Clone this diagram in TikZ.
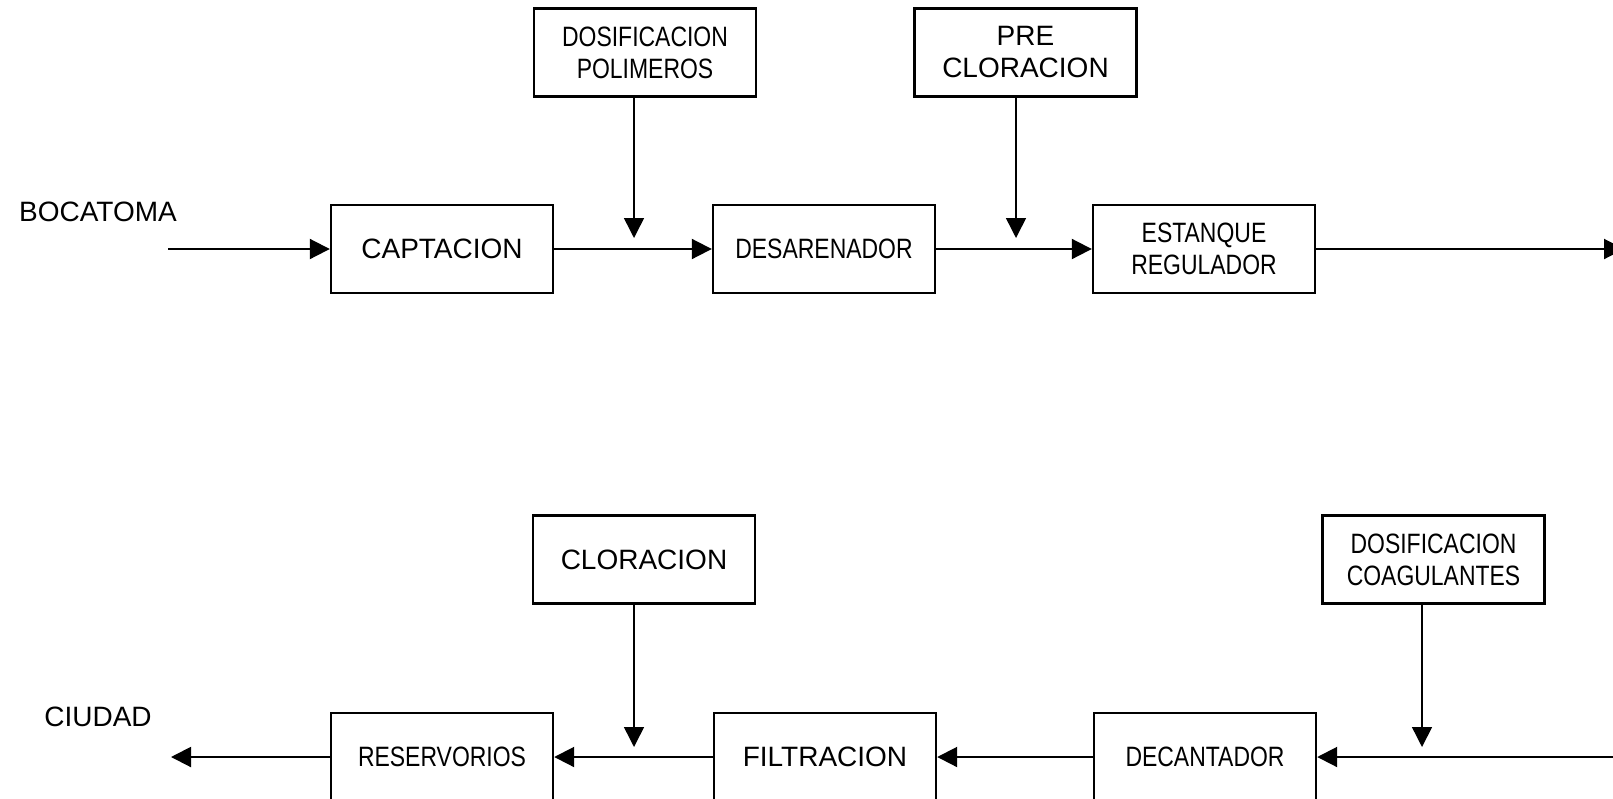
\documentclass[tikz,border=0pt]{standalone}
\usepackage{fontspec}
\setmainfont{Liberation Sans}
\newfontfamily\narrowsans[FakeStretch=0.82]{Liberation Sans}
\usetikzlibrary{arrows.meta}
\begin{document}
\begin{tikzpicture}[x=1pt,y=-1pt,
  box/.style={draw, line width=2.4pt, minimum width=222pt, minimum height=88pt,
    inner sep=0pt, align=center, font=\fontsize{28}{32}\selectfont},
  nbox/.style={box, font=\fontsize{28}{32}\selectfont\narrowsans},
  tag/.style={inner sep=0pt, font=\fontsize{28}{32}\selectfont},
  flow/.style={line width=2pt, -{Triangle[length=20pt,width=20pt]}},
  feed/.style={line width=1.5pt, -{Triangle[length=20pt,width=20pt]}}]
\useasboundingbox (0,0) rectangle (1613,798);
\clip (0,0) rectangle (1613,798);

% upper line: intake to regulating tank
\node[tag] (boca) at (98,212) {BOCATOMA};
\node[box]  (capt) at (442,249) {CAPTACION};
\node[nbox] (des)  at (824,249) {DESARENADOR};
\node[nbox] (est)  at (1204,249) {ESTANQUE\\REGULADOR};
\node[nbox] (pol)  at (645,52.5) {DOSIFICACION\\POLIMEROS};
\node[box]  (pre)  at (1025.5,52.5) {PRE\\CLORACION};

\coordinate (inl)  at (168,249);
\coordinate (outr) at (1624,249);
\coordinate (dpol) at (634,238);
\coordinate (dpre) at (1016,238);

\draw[flow] (inl) -- (capt.west);
\draw[flow] (capt.east) -- (des.west);
\draw[flow] (des.east) -- (est.west);
\draw[flow] (est.east) -- (outr);
\draw[feed] (pol.south -| dpol) -- (dpol);
\draw[feed] (pre.south -| dpre) -- (dpre);

% lower line: treatment back to the city
\node[tag] (ciud) at (98,717) {CIUDAD};
\node[nbox] (res) at (442,757) {RESERVORIOS};
\node[box]  (fil) at (825,757) {FILTRACION};
\node[nbox] (dec) at (1205,757) {DECANTADOR};
\node[box]  (clo) at (644,559.5) {CLORACION};
\node[nbox] (coag) at (1433.5,559.5) {DOSIFICACION\\COAGULANTES};

\coordinate (inr)  at (1620,757);
\coordinate (outl) at (171,757);
\coordinate (dclo) at (634,747);
\coordinate (dcoa) at (1422,747);

\draw[flow] (inr) -- (dec.east);
\draw[flow] (dec.west) -- (fil.east);
\draw[flow] (fil.west) -- (res.east);
\draw[flow] (res.west) -- (outl);
\draw[feed] (clo.south -| dclo) -- (dclo);
\draw[feed] (coag.south -| dcoa) -- (dcoa);
\end{tikzpicture}
\end{document}
